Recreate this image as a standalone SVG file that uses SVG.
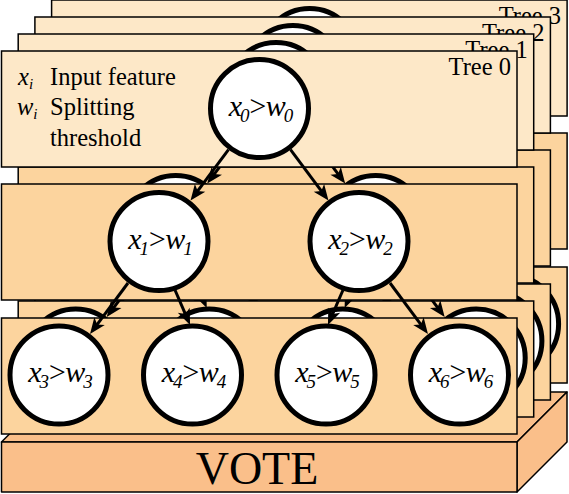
<svg xmlns="http://www.w3.org/2000/svg" xmlns:xlink="http://www.w3.org/1999/xlink" width="569" height="494" viewBox="0 0 569 494">
<style>
.top{fill:#FDE8C8;stroke:#000;stroke-width:1.5}
.lvl{fill:#FCD49E;stroke:#000;stroke-width:1.5}
.slab{fill:#FABF8A;stroke:#000;stroke-width:1.5;stroke-linejoin:round}
.nc{fill:#fff;stroke:#000;stroke-width:5}
.edge{stroke:#000;stroke-width:3;fill:none;marker-end:url(#ah)}
.lbl{font-family:"Liberation Serif",serif;font-style:italic;font-size:30px;letter-spacing:-2px;fill:#000}
.sub{font-size:19px}
.txt{font-family:"Liberation Serif",serif;font-size:24.5px;fill:#000}
.it{font-style:italic}
.vote{font-family:"Liberation Serif",serif;font-size:46px;fill:#000}
</style>
<defs>
<marker id="ah" markerUnits="userSpaceOnUse" viewBox="-9 -7 18 14" refX="0" refY="0" markerWidth="18" markerHeight="14" orient="auto">
<path d="M8,0 L-8,-6.5 L-4,0 L-8,6.5 Z" fill="#000"/>
</marker>
<g id="skeleton">
<rect class="top" x="1.5" y="51" width="515.5" height="116"/>
<rect class="lvl" x="1.5" y="184" width="515.5" height="116"/>
<rect class="lvl" x="1.5" y="318" width="515.5" height="116"/>
<line class="edge" x1="228.5" y1="149.6" x2="195.3" y2="194.2"/>
<line class="edge" x1="290.5" y1="149.6" x2="323.7" y2="194.2"/>
<line class="edge" x1="128" y1="283" x2="94.8" y2="327.6"/>
<line class="edge" x1="175" y1="290" x2="186.9" y2="317.6"/>
<line class="edge" x1="343" y1="290" x2="331.1" y2="317.6"/>
<line class="edge" x1="390" y1="283" x2="423.2" y2="327.6"/>
<circle class="nc" cx="259.5" cy="108.5" r="49"/>
<circle class="nc" cx="159" cy="241.5" r="49"/>
<circle class="nc" cx="359" cy="241.5" r="49"/>
<circle class="nc" cx="59" cy="375" r="49"/>
<circle class="nc" cx="192.5" cy="375" r="49"/>
<circle class="nc" cx="326" cy="375" r="49"/>
<circle class="nc" cx="459.5" cy="375" r="49"/>
</g>
</defs>

<g id="vote">
<polygon class="slab" points="1.5,442 517,442 567,392 51.5,392"/>
<polygon class="slab" points="517,442 567,392 567,442 517,492"/>
<rect class="slab" x="1.5" y="442" width="515.5" height="50"/>
<text class="vote" x="257" y="484" text-anchor="middle">VOTE</text>
</g>

<g id="tree3" transform="translate(50.1,-51)">
<use xlink:href="#skeleton" href="#skeleton"/>
<text class="txt" x="511" y="75" text-anchor="end">Tree 3</text>
</g>
<g id="tree2" transform="translate(33.4,-34)">
<use xlink:href="#skeleton" href="#skeleton"/>
<text class="txt" x="511" y="75" text-anchor="end">Tree 2</text>
</g>
<g id="tree1" transform="translate(16.7,-17)">
<use xlink:href="#skeleton" href="#skeleton"/>
<text class="txt" x="511" y="75" text-anchor="end">Tree 1</text>
</g>

<g id="tree0">
<g id="panels0">
<rect class="top" x="1.5" y="51" width="515.5" height="116"/>
<text class="txt" x="511" y="75" text-anchor="end">Tree 0</text>
<rect class="lvl" x="1.5" y="184" width="515.5" height="116"/>
<rect class="lvl" x="1.5" y="318" width="515.5" height="116"/>
</g>
<g id="legend">
<text class="txt" x="18" y="85"><tspan class="it">x</tspan><tspan class="it" font-size="15" dy="4">i</tspan></text>
<text class="txt" x="50" y="85">Input feature</text>
<text class="txt" x="17" y="115"><tspan class="it">w</tspan><tspan class="it" font-size="15" dy="4">i</tspan></text>
<text class="txt" x="50" y="115">Splitting</text>
<text class="txt" x="50" y="146">threshold</text>
</g>
<g id="connectors">
<line class="edge" x1="228.5" y1="149.6" x2="195.3" y2="194.2"/>
<line class="edge" x1="290.5" y1="149.6" x2="323.7" y2="194.2"/>
<line class="edge" x1="128" y1="283" x2="94.8" y2="327.6"/>
<line class="edge" x1="175" y1="290" x2="186.9" y2="317.6"/>
<line class="edge" x1="343" y1="290" x2="331.1" y2="317.6"/>
<line class="edge" x1="390" y1="283" x2="423.2" y2="327.6"/>
</g>
<g id="n0"><circle class="nc" cx="259.5" cy="108.5" r="49"/><text class="lbl" x="260" y="115.5" text-anchor="middle">x<tspan class="sub" dy="6">0</tspan><tspan dy="-6">&gt;w</tspan><tspan class="sub" dy="6">0</tspan></text></g>
<g id="n1"><circle class="nc" cx="159" cy="241.5" r="49"/><text class="lbl" x="159.5" y="248.5" text-anchor="middle">x<tspan class="sub" dy="6">1</tspan><tspan dy="-6">&gt;w</tspan><tspan class="sub" dy="6">1</tspan></text></g>
<g id="n2"><circle class="nc" cx="359" cy="241.5" r="49"/><text class="lbl" x="359.5" y="248.5" text-anchor="middle">x<tspan class="sub" dy="6">2</tspan><tspan dy="-6">&gt;w</tspan><tspan class="sub" dy="6">2</tspan></text></g>
<g id="n3"><circle class="nc" cx="59" cy="375" r="49"/><text class="lbl" x="59.5" y="382" text-anchor="middle">x<tspan class="sub" dy="6">3</tspan><tspan dy="-6">&gt;w</tspan><tspan class="sub" dy="6">3</tspan></text></g>
<g id="n4"><circle class="nc" cx="192.5" cy="375" r="49"/><text class="lbl" x="193" y="382" text-anchor="middle">x<tspan class="sub" dy="6">4</tspan><tspan dy="-6">&gt;w</tspan><tspan class="sub" dy="6">4</tspan></text></g>
<g id="n5"><circle class="nc" cx="326" cy="375" r="49"/><text class="lbl" x="326.5" y="382" text-anchor="middle">x<tspan class="sub" dy="6">5</tspan><tspan dy="-6">&gt;w</tspan><tspan class="sub" dy="6">5</tspan></text></g>
<g id="n6"><circle class="nc" cx="459.5" cy="375" r="49"/><text class="lbl" x="460" y="382" text-anchor="middle">x<tspan class="sub" dy="6">6</tspan><tspan dy="-6">&gt;w</tspan><tspan class="sub" dy="6">6</tspan></text></g>
</g>
</svg>
